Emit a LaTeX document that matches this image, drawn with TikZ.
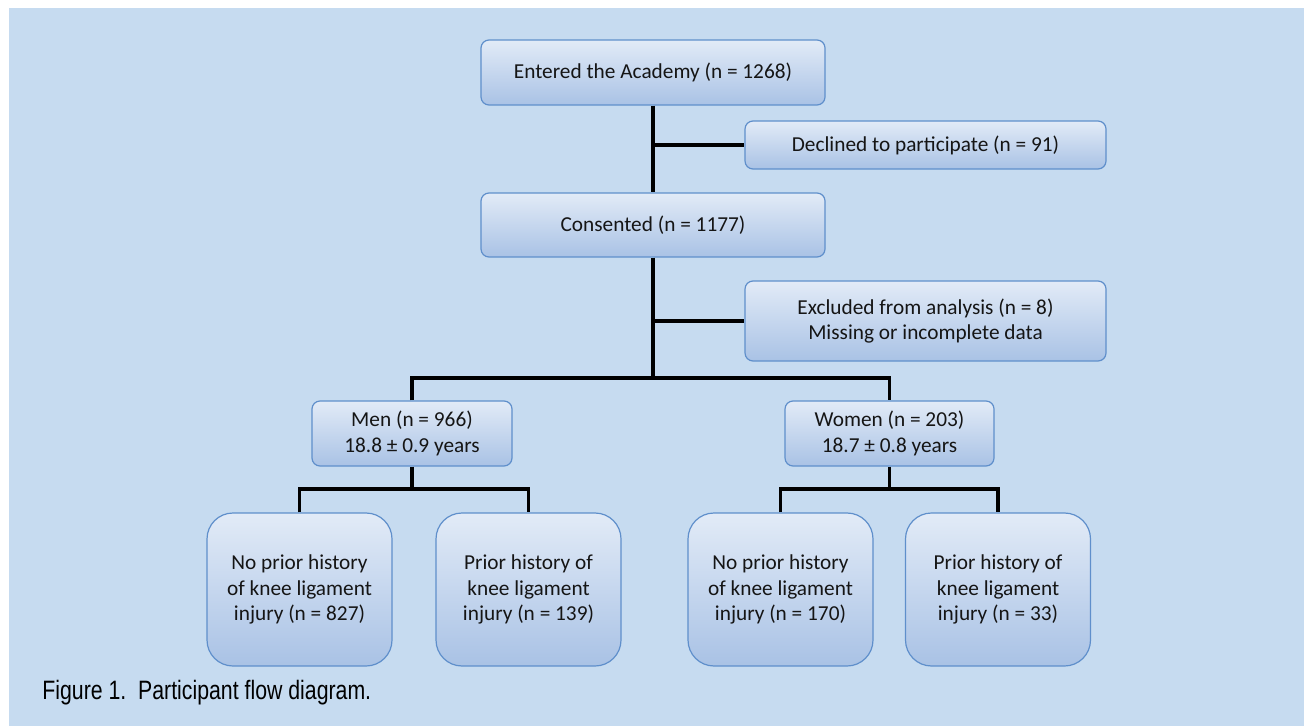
\documentclass[tikz,border=0pt]{standalone}
\usepackage{fontspec}
\setmainfont{Carlito}
\newfontfamily\capfont[FakeStretch=0.8]{Liberation Sans}
\definecolor{panelblue}{HTML}{C6DBF0}
\definecolor{boxtop}{HTML}{E2EBF7}
\definecolor{boxbottom}{HTML}{A9C2E5}
\definecolor{boxline}{HTML}{5F8FCB}
\definecolor{inktext}{HTML}{151515}
\tikzset{
  flowbox/.style={draw=boxline, line width=0.6pt, rounded corners=4pt,
    top color=boxtop, bottom color=boxbottom, text=inktext,
    align=center, inner sep=0pt,
    font=\fontsize{10.65}{12.9}\selectfont},
  injurybox/.style={flowbox, rounded corners=13pt,
    minimum width=92.5pt, minimum height=76.5pt},
  link/.style={line width=1.75pt, black}
}
\begin{document}
\begin{tikzpicture}[x=0.5pt, y=-0.5pt]
  \useasboundingbox (0,0) rectangle (1304,726);
  % Panel
  \fill[panelblue] (9,8) rectangle (1304,726);

  % Top of the flow
  \node[flowbox, minimum width=172pt, minimum height=32.5pt] (entered) at (653,72.5)
    {Entered the Academy (n = 1268)};
  \node[flowbox, minimum width=180.5pt, minimum height=24pt] (declined) at (925.5,145)
    {Declined to participate (n = 91)};
  \node[flowbox, minimum width=172pt, minimum height=32pt] (consented) at (653,225)
    {Consented (n = 1177)};
  \node[flowbox, minimum width=180.5pt, minimum height=40pt] (excluded) at (925.5,321)
    {Excluded from analysis (n = 8)\\Missing or incomplete data};

  % Men and women
  \node[flowbox, minimum width=100pt, minimum height=32.5pt] (men) at (412,433.5)
    {Men (n = 966)\\18.8 ± 0.9 years};
  \node[flowbox, minimum width=104.5pt, minimum height=32.5pt] (women) at (889.5,433.5)
    {Women (n = 203)\\18.7 ± 0.8 years};

  % Knee ligament history
  \node[injurybox] (mennone) at (299.5,589.5)
    {No prior history\\of knee ligament\\injury (n = 827)};
  \node[injurybox] (menprior) at (528.5,589.5)
    {Prior history of\\knee ligament\\injury (n = 139)};
  \node[injurybox] (womennone) at (780.5,589.5)
    {No prior history\\of knee ligament\\injury (n = 170)};
  \node[injurybox] (womenprior) at (998,589.5)
    {Prior history of\\knee ligament\\injury (n = 33)};

  % Split points
  \coordinate (sexsplit) at (653,378);
  \coordinate (mensplit) at (412,489);
  \coordinate (womensplit) at (889.5,489);

  % Connectors
  \draw[link] (entered) -- (consented);
  \draw[link] (entered |- declined) -- (declined.west);
  \draw[link] (consented) -- (sexsplit);
  \draw[link] (consented |- excluded) -- (excluded.west);
  \draw[link] (men.north) |- (sexsplit) -| (women.north);
  \draw[link] (men) -- (mensplit);
  \draw[link] (mennone.north) |- (mensplit) -| (menprior.north);
  \draw[link] (women) -- (womensplit);
  \draw[link] (womennone.north) |- (womensplit) -| (womenprior.north);

  % Caption
  \node[anchor=base west, inner sep=0pt, font=\capfont\fontsize{13.3}{16}\selectfont] (caption) at (42,699)
    {Figure 1.\ \ Participant flow diagram.};
\end{tikzpicture}
\end{document}
